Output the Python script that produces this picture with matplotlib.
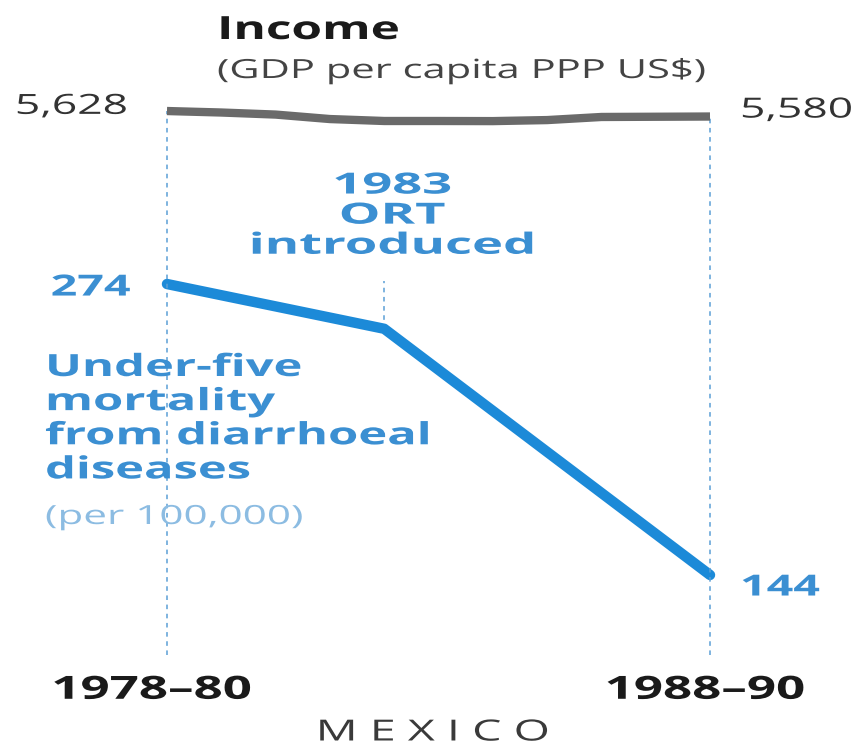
import numpy as np
import matplotlib.pyplot as plt
from matplotlib.patheffects import AbstractPathEffect
from matplotlib.transforms import Affine2D, offset_copy

# data
mort_years = [1979, 1983, 1989]
mortality = [274, 254, 144]
income_years = [1979, 1980, 1981, 1982, 1983, 1984, 1985, 1986, 1987, 1988, 1989]
income = [5628, 5615, 5597, 5558, 5541, 5541, 5540, 5549, 5576, 5578, 5580]
period_labels = ['1978–80', '1988–90']
ort_year = 1983

BLUE = '#1c8ad8'
TBLUE = '#3b8fd2'
LBLUE = '#8cbce2'
GREY = '#6a6a6a'
DASH = '#5b9fd6'
FONT = 'Open Sans'
SX = 1.6   # the original lettering is wide, stretch glyphs horizontally


class HStretch(AbstractPathEffect):
    """Widen a text around its own anchor point."""
    def __init__(self, sx, text):
        super().__init__()
        self.sx = sx
        self.text = text

    def draw_path(self, renderer, gc, tpath, affine, rgbFace=None):
        x0 = self.text.get_transform().transform(self.text.get_unitless_position())[0]
        st = Affine2D().translate(-x0, 0).scale(self.sx, 1).translate(x0, 0)
        renderer.draw_path(gc, tpath, affine + st, rgbFace)


def wide(t, sx=SX):
    t.set_path_effects([HStretch(sx, t)])
    return t


W, H = 855, 750
fig = plt.figure(figsize=(W / 100, H / 100), dpi=100)
ax = fig.add_axes([0, 0, 1, 1])
ax.set_xlim(1975.925, 1991.67)
ax.set_ylim(65.8, 400.9)
ax.axis('off')
ax2 = ax.twinx()
ax2.set_ylim(51, 6597)
ax2.axis('off')


def label(axis, x, y, s, dx, dy, sx=SX, **kw):
    tr = offset_copy(axis.transData, fig=fig, x=dx, y=dy, units='points')
    return wide(axis.text(x, y, s, transform=tr, family=FONT, **kw), sx)


# dashed guide lines
line_bottom = 880
ax2.vlines([income_years[0], income_years[-1]], line_bottom, [income[0], income[-1]],
           colors=DASH, linestyles=(0, (3, 3)), linewidth=1.1, zorder=1)
ort_val = mortality[mort_years.index(ort_year)]
ax.vlines(ort_year, ort_val, ort_val + 21.5, colors=DASH,
          linestyles=(0, (3, 3)), linewidth=1.1, zorder=1)

# lines
ax2.plot(income_years, income, color=GREY, lw=6, solid_capstyle='butt', zorder=3)
ax.plot(mort_years, mortality, color=BLUE, lw=7.5, solid_capstyle='round',
        solid_joinstyle='round', zorder=3)

# value labels
label(ax2, income_years[0], income[0], f'{income[0]:,}', -28, 3,
      ha='right', va='center', fontsize=20, color='#333333')
label(ax2, income_years[-1], income[-1], f'{income[-1]:,}', 21.6, 4.3,
      ha='left', va='center', fontsize=20, color='#333333')
label(ax, mort_years[0], mortality[0], f'{mortality[0]}', -26.6, -2.9,
      ha='right', va='center', fontsize=21, color=TBLUE, weight='bold')
label(ax, mort_years[-1], mortality[-1], f'{mortality[-1]}', 21.6, -9.4,
      ha='left', va='center', fontsize=21, color=TBLUE, weight='bold')

label(ax, ort_year, ort_val, f'{ort_year}\nORT\nintroduced', 5.8, 49, sx=1.8,
      ha='center', va='bottom', fontsize=21, color=TBLUE, weight='bold',
      linespacing=1.05)

# period labels under the guide lines
for yr, lab, dx in zip([mort_years[0], mort_years[-1]], period_labels, [-11, -3.6]):
    label(ax, yr, ax.get_ylim()[0], lab, dx, 43,
          ha='center', va='center', fontsize=23, color='#1a1a1a', weight='bold')

# titles / captions
wide(fig.text(217 / W, 1 - 39 / H, 'Income', ha='left', va='baseline',
              fontsize=23, color='#1a1a1a', family=FONT, weight='bold'), 1.55)
wide(fig.text(217 / W, 1 - 78 / H, '(GDP per capita PPP US$)', ha='left', va='baseline',
              fontsize=19, color='#444444', family=FONT), 1.58)

wide(fig.text(45 / W, 1 - 353 / H, 'Under-five\nmortality\nfrom diarrhoeal\ndiseases',
              ha='left', va='top', fontsize=22, color=TBLUE, family=FONT,
              weight='bold', linespacing=1.18))
wide(fig.text(45 / W, 1 - 524 / H, '(per 100,000)', ha='left', va='baseline',
              fontsize=19, color=LBLUE, family=FONT))

wide(fig.text(433 / W, 1 - 733 / H, 'M E X I C O', ha='center', va='center',
              fontsize=21, color='#3a3a3a', family=FONT))

fig.savefig('out.png', dpi=100)
